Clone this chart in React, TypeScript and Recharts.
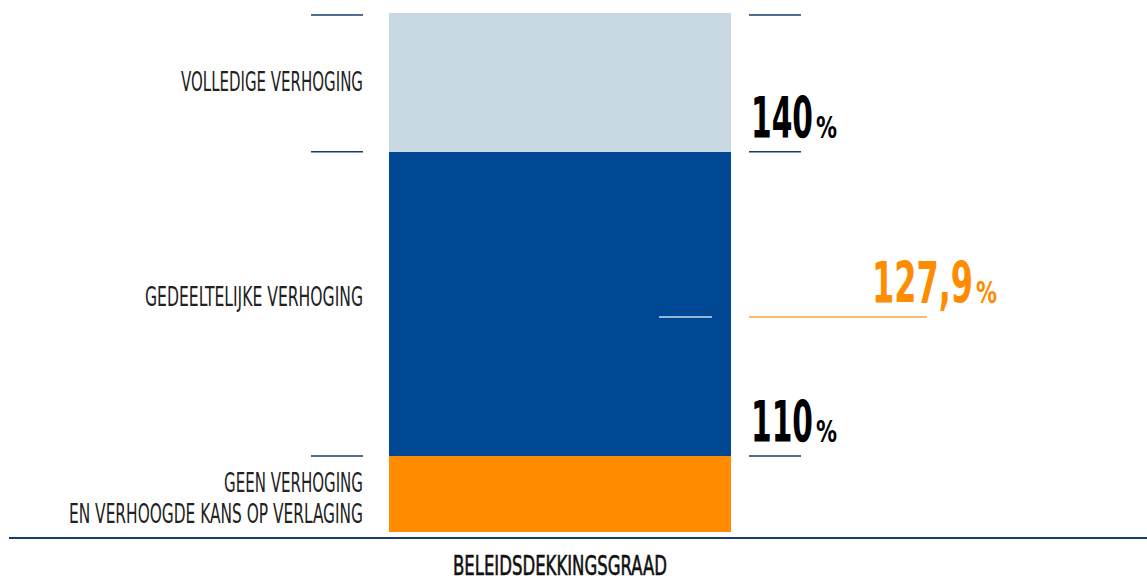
import React from 'react'
import {
  BarChart,
  Bar,
  XAxis,
  YAxis,
  ReferenceLine,
  LabelList,
} from 'recharts'

// schematische balk: de hoogtes volgen de tekening, niet een echte schaal
const categorieen = ['BELEIDSDEKKINGSGRAAD']
const geenVerhoging = [110]
const gedeeltelijkeVerhoging = [30]
const volledigeVerhoging = [13.7]

const grenzen = [110, 140]
const grensLabels = ['110', '140']
const bovenrand = 153.5
const schaal: [number, number] = [102.5, 153.7]

const actueelLabel = '127,9'
const actueelPositie = 123.7

const labelsGeen = ['GEEN VERHOGING', 'EN VERHOOGDE KANS OP VERLAGING']
const labelsGedeeltelijk = ['GEDEELTELIJKE VERHOGING']
const labelsVolledig = ['VOLLEDIGE VERHOGING']

const data = categorieen.map((naam, i) => ({
  naam,
  geen: geenVerhoging[i],
  gedeeltelijk: gedeeltelijkeVerhoging[i],
  volledig: volledigeVerhoging[i],
}))

const FONT = '"Liberation Sans Narrow", "DejaVu Sans Condensed", "Liberation Sans", sans-serif'
const NAVY = '#173d6b'

// breedtes uit de tekening, zodat de smalle letter klopt
const breedtes: Record<string, number> = {
  'VOLLEDIGE VERHOGING': 182,
  'GEDEELTELIJKE VERHOGING': 218,
  'GEEN VERHOGING': 139,
  'EN VERHOOGDE KANS OP VERLAGING': 294,
  BELEIDSDEKKINGSGRAAD: 214,
  '140': 62,
  '110': 62,
  '127,9': 101,
  '%': 21,
}

function Tekst({ x, y, tekst, size, weight = 400, fill = '#1a1a1a', anchor = 'start', stroke }: any) {
  return (
    <text
      x={x}
      y={y}
      fontFamily={FONT}
      fontSize={size}
      fontWeight={weight}
      fill={fill}
      stroke={stroke}
      strokeWidth={stroke ? 0.6 : undefined}
      textAnchor={anchor}
      textLength={breedtes[tekst]}
      lengthAdjust="spacingAndGlyphs"
    >
      {tekst}
    </text>
  )
}

const segmentLabel = (regels: string[], dy: number) => (props: any) => {
  const { x, y } = props
  return (
    <g>
      {regels.map((r, i) => (
        <Tekst key={r} x={x - 26} y={y + dy + i * 31} tekst={r} size={26} fill="#222" anchor="end" />
      ))}
    </g>
  )
}

function Percentage({ x, y, waarde, kleur }: any) {
  const w = breedtes[waarde]
  return (
    <text x={x} y={y} fontFamily={FONT} fontWeight={700} fill={kleur}>
      <tspan fontSize={57} textLength={w} lengthAdjust="spacingAndGlyphs">
        {waarde}
      </tspan>
      <tspan x={x + w + 3} fontSize={31} textLength={breedtes['%']} lengthAdjust="spacingAndGlyphs">
        %
      </tspan>
    </text>
  )
}

const grensVorm = (label: string | null) => (props: any) => {
  const { x1, x2, y1 } = props
  return (
    <g>
      <line x1={x1 - 78} x2={x1 - 26} y1={y1} y2={y1} stroke={NAVY} strokeWidth={1.5} />
      <line x1={x2 + 18} x2={x2 + 70} y1={y1} y2={y1} stroke={NAVY} strokeWidth={1.5} />
      {label && <Percentage x={x2 + 20} y={y1 - 14} waarde={label} kleur="#000" />}
    </g>
  )
}

const actueelVorm = (props: any) => {
  const { x2, y1 } = props
  return (
    <g>
      <line x1={x2 - 72} x2={x2 - 19} y1={y1} y2={y1} stroke="#c9d8ea" strokeWidth={1.5} />
      <line x1={x2 + 18} x2={x2 + 196} y1={y1} y2={y1} stroke="#f9a544" strokeWidth={1.5} />
      <Percentage x={x2 + 141} y={y1 - 14} waarde={actueelLabel} kleur="#ff8c00" />
    </g>
  )
}

const basisVorm = (props: any) => {
  const { x2, y1 } = props
  return <line x1={9} x2={x2 + 416} y1={y1 + 6} y2={y1 + 6} stroke={NAVY} strokeWidth={2} />
}

const XTick = (props: any) => {
  const { x, y, payload } = props
  return <Tekst x={x} y={y + 35} tekst={payload.value} size={27} fill="#111" stroke="#111" anchor="middle" />
}

export default function App() {
  return (
    <div style={{ position: 'absolute', left: 0, top: 0, background: '#fff' }}>
      <BarChart
        width={1147}
        height={578}
        data={data}
        margin={{ top: 13, right: 416, bottom: 0, left: 389 }}
        barCategoryGap={0}
      >
        <XAxis dataKey="naam" axisLine={false} tickLine={false} height={46} tick={<XTick />} interval={0} />
        <YAxis hide type="number" domain={schaal} allowDataOverflow />
        <Bar dataKey="geen" stackId="a" fill="#ff8c00" isAnimationActive={false}>
          <LabelList dataKey="geen" content={segmentLabel(labelsGeen, 36)} />
        </Bar>
        <Bar dataKey="gedeeltelijk" stackId="a" fill="#004893" isAnimationActive={false}>
          <LabelList dataKey="gedeeltelijk" content={segmentLabel(labelsGedeeltelijk, 154)} />
        </Bar>
        <Bar dataKey="volledig" stackId="a" fill="#c9d9e4" isAnimationActive={false}>
          <LabelList dataKey="volledig" content={segmentLabel(labelsVolledig, 78)} />
        </Bar>
        {grenzen.map((g, i) => (
          <ReferenceLine key={g} y={g} stroke="none" shape={grensVorm(grensLabels[i])} />
        ))}
        <ReferenceLine y={bovenrand} stroke="none" shape={grensVorm(null)} />
        <ReferenceLine y={actueelPositie} stroke="none" shape={actueelVorm} />
        <ReferenceLine y={schaal[0]} stroke="none" shape={basisVorm} />
      </BarChart>
    </div>
  )
}
